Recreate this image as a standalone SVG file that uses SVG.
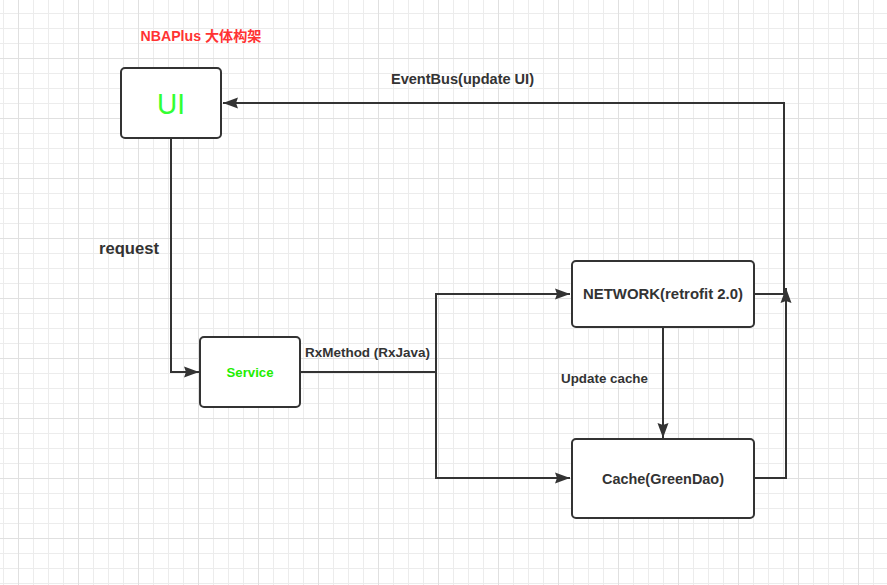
<svg xmlns="http://www.w3.org/2000/svg" width="887" height="585" viewBox="0 0 887 585">
<style>
.box{fill:#ffffff;stroke:#333333;stroke-width:2}
.lbl{font-family:"Liberation Sans","Noto Sans CJK SC",sans-serif;font-weight:bold;fill:#333333;font-size:13px}
.ctr{text-anchor:middle}
.edge{fill:none;stroke:#333333;stroke-width:2}
.arr{marker-end:url(#ah)}
</style>
<defs>
<pattern id="gMinor" patternUnits="userSpaceOnUse" x="3" y="13" width="15" height="15">
<path d="M0.5,0 V15 M0,0.5 H15" stroke="#ececec" stroke-width="1" fill="none"/>
</pattern>
<pattern id="gMajor" patternUnits="userSpaceOnUse" x="18" y="58" width="60" height="60">
<path d="M0.5,0 V60 M0,0.5 H60" stroke="#e0e0e0" stroke-width="1" fill="none"/>
</pattern>
<marker id="ah" markerUnits="userSpaceOnUse" markerWidth="16" markerHeight="12" viewBox="0 0 16 12" refX="15" refY="6" orient="auto">
<path d="M0,0.5 L15,6 L0,11.5 L2,6 z" fill="#333333"/>
</marker>
</defs>
<rect x="0" y="0" width="887" height="585" fill="#ffffff"/>
<rect x="0" y="0" width="887" height="585" fill="url(#gMinor)"/>
<rect x="0" y="0" width="887" height="585" fill="url(#gMajor)"/>

<g id="title">
<text x="201" y="41" class="ctr" style="font-family:'Liberation Sans','Noto Sans CJK SC',sans-serif;font-weight:bold;font-size:14px;fill:#ff3333" textLength="121" lengthAdjust="spacingAndGlyphs">NBAPlus 大体构架</text>
</g>

<g id="connectors">
<path class="edge arr" d="M171,138 V372 H199"/>
<path class="edge arr" d="M436,372 V294 H570"/>
<path class="edge arr" d="M300,372 H436 V478 H570"/>
<path class="edge arr" d="M663,327 V438"/>
<path class="edge arr" d="M754,478 H786 V288"/>
<path class="edge arr" d="M754,294 H784 V103 H223"/>
<text x="99" y="254" class="lbl" style="font-size:16px" textLength="60" lengthAdjust="spacingAndGlyphs">request</text>
<text x="391" y="84" class="lbl" style="font-size:14px" textLength="143" lengthAdjust="spacingAndGlyphs">EventBus(update UI)</text>
<text x="305" y="357" class="lbl" textLength="125" lengthAdjust="spacingAndGlyphs">RxMethod (RxJava)</text>
<text x="561" y="383" class="lbl" textLength="87" lengthAdjust="spacingAndGlyphs">Update cache</text>
</g>

<g id="node-ui">
<rect class="box" x="121" y="68" width="100" height="70" rx="4"/>
<text x="171" y="114" class="ctr" style="font-family:'Liberation Sans',sans-serif;font-size:29px;fill:#33ff33" textLength="28" lengthAdjust="spacingAndGlyphs">UI</text>
</g>

<g id="node-service">
<rect class="box" x="200" y="337" width="100" height="70" rx="4"/>
<text x="250" y="377" class="lbl ctr" style="fill:#22ee00" textLength="47" lengthAdjust="spacingAndGlyphs">Service</text>
</g>

<g id="node-network">
<rect class="box" x="572" y="261" width="182" height="66" rx="4"/>
<text x="663" y="299" class="lbl ctr" style="font-size:14px" textLength="160" lengthAdjust="spacingAndGlyphs">NETWORK(retrofit 2.0)</text>
</g>

<g id="node-cache">
<rect class="box" x="572" y="439" width="182" height="79" rx="4"/>
<text x="663" y="484" class="lbl ctr" style="font-size:14px" textLength="122" lengthAdjust="spacingAndGlyphs">Cache(GreenDao)</text>
</g>
</svg>
